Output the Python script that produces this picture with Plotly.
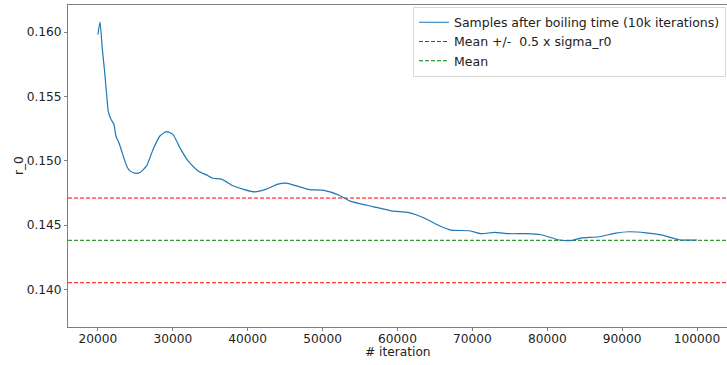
import plotly.graph_objects as go

# Data
iterations = [20000, 20270, 20570, 20840, 21160, 21370, 21730, 22130, 22400, 22800,
              23160, 23600, 23910, 24270, 24930, 25600, 26490, 27370, 28270, 29160,
              30000, 30930, 32040, 33370, 34490, 35370, 36490, 38040, 39370, 40930,
              42490, 44040, 45160, 46490, 48270, 50040, 52270, 53600, 54930, 56710,
              59160, 61370, 62490, 63830, 65600, 67160, 69600, 71160, 72930, 74930,
              77160, 79160, 81600, 83370, 84490, 86930, 89160, 90930, 93160, 95370,
              97600, 100000]
r0_values = [0.15981, 0.16078, 0.15877, 0.15722, 0.15516, 0.15386, 0.15322, 0.15283, 0.15192, 0.15140,
             0.15076, 0.14998, 0.14950, 0.14921, 0.14903, 0.14908, 0.14960, 0.15089, 0.15192, 0.15226,
             0.15205, 0.15102, 0.14998, 0.14921, 0.14890, 0.14864, 0.14857, 0.14805, 0.14779, 0.14758,
             0.14779, 0.14818, 0.14826, 0.14805, 0.14776, 0.14771, 0.14730, 0.14688, 0.14667, 0.14644,
             0.14611, 0.14598, 0.14580, 0.14547, 0.14495, 0.14461, 0.14456, 0.14433, 0.14443, 0.14433,
             0.14433, 0.14425, 0.14384, 0.14381, 0.14399, 0.14409, 0.14438, 0.14448, 0.14440, 0.14422,
             0.14386, 0.14384]
mean_r0 = 0.14381
sigma_r0 = 0.00658
x_range = [16000, 104000]
y_range = [0.13708, 0.1621]
x_ticks = [20000, 30000, 40000, 50000, 60000, 70000, 80000, 90000, 100000]
y_ticks = [0.140, 0.145, 0.150, 0.155, 0.160]

FONT = "DejaVu Sans"
FS = 12.2
TXT = "#222222"
fig = go.Figure()
fig.add_trace(go.Scatter(x=iterations, y=r0_values, mode="lines",
                         line=dict(color="#1f77b4", width=1.2, shape="spline", smoothing=0.6),
                         name="Samples after boiling time (10k iterations)", legendgroup="a"))
fig.add_trace(go.Scatter(x=[None], y=[None], mode="lines",
                         line=dict(color="red", width=1, dash="4px,2px"),
                         name="Mean +/-\u00a0 0.5 x sigma_r0", legendgroup="b"))
fig.add_trace(go.Scatter(x=[None], y=[None], mode="lines",
                         line=dict(color="green", width=1, dash="4px,2px"),
                         name="Mean", legendgroup="c"))

for yv, col in [(mean_r0 + 0.5 * sigma_r0, "red"), (mean_r0 - 0.5 * sigma_r0, "red"),
                (mean_r0, "#3a9a3a")]:
    fig.add_shape(type="line", xref="paper", x0=0, x1=1, yref="y", y0=yv, y1=yv,
                  line=dict(color=col, width=1.2 if col != "red" else 1, dash="4px,2px"),
                  layer="below")

fig.add_annotation(text="# iteration", xref="paper", yref="paper", x=0.5, y=0,
                   yshift=-25, yanchor="middle", showarrow=False,
                   font=dict(family=FONT, size=FS, color=TXT))
fig.add_annotation(text="r_0", xref="paper", yref="paper", x=0, y=0.5,
                   xshift=-49, xanchor="center", yanchor="middle", textangle=-90,
                   showarrow=False, font=dict(family=FONT, size=FS, color=TXT))

fig.update_layout(
    width=727, height=365,
    margin=dict(l=68, r=0, t=5, b=38),
    plot_bgcolor="white", paper_bgcolor="white",
    font=dict(family=FONT, size=FS, color=TXT),
    showlegend=True,
    legend=dict(x=0.9985, y=0.995, xanchor="right", yanchor="top",
                bgcolor="rgba(255,255,255,0.8)", bordercolor="#d9d9d9", borderwidth=1,
                font=dict(family=FONT, size=12.5, color=TXT),
                itemwidth=30, tracegroupgap=0, traceorder="grouped"),
    xaxis=dict(range=x_range, tickvals=x_ticks, tickformat="d",
               showgrid=False, zeroline=False, showline=True, linecolor="#808080",
               linewidth=1, mirror=True, ticks="outside", ticklen=3, tickcolor="#808080",
               ticklabelstandoff=-3),
    yaxis=dict(range=y_range, tickvals=y_ticks, tickformat=".3f",
               showgrid=False, zeroline=False, showline=True, linecolor="#808080",
               linewidth=1, mirror=True, ticks="outside", ticklen=3, tickcolor="#808080"),
)

fig.write_html("out.html")
